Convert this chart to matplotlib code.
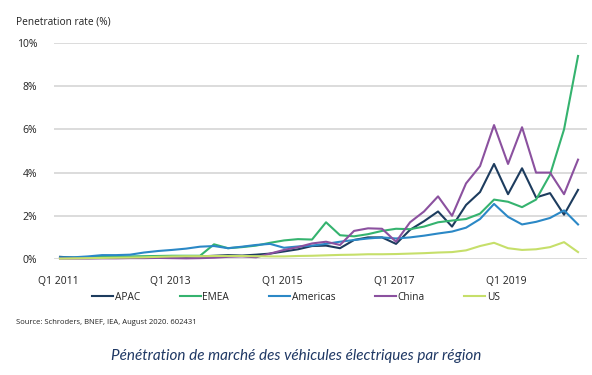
import matplotlib

matplotlib.use("Agg")
import matplotlib.pyplot as plt


# quarterly EV penetration (%), Q1 2011 .. Q2 2020
quarters = [f"Q{q} {y}" for y in range(2011, 2021) for q in range(1, 5)][:38]
tick_labels = ["Q1 2011", "Q1 2013", "Q1 2015", "Q1 2017", "Q1 2019"]

apac = [0.10, 0.06, 0.05, 0.05, 0.06, 0.07, 0.08, 0.10, 0.12, 0.10,
        0.12, 0.15, 0.18, 0.16, 0.20, 0.25, 0.35, 0.45, 0.60, 0.62,
        0.50, 0.88, 1.00, 1.00, 0.70, 1.35, 1.75, 2.20, 1.50, 2.50,
        3.10, 4.40, 3.00, 4.20, 2.85, 3.05, 2.05, 3.20]
emea = [0.05, 0.06, 0.08, 0.10, 0.10, 0.12, 0.13, 0.14, 0.15, 0.15,
        0.15, 0.68, 0.50, 0.55, 0.62, 0.75, 0.86, 0.92, 0.90, 1.70,
        1.10, 1.05, 1.15, 1.30, 1.40, 1.38, 1.50, 1.70, 1.78, 1.85,
        2.10, 2.75, 2.65, 2.40, 2.75, 3.90, 6.00, 9.40]
americas = [0.08, 0.08, 0.12, 0.18, 0.18, 0.20, 0.30, 0.37, 0.42, 0.48,
            0.57, 0.60, 0.50, 0.57, 0.65, 0.70, 0.52, 0.58, 0.62, 0.70,
            0.80, 0.88, 0.95, 1.00, 0.95, 1.00, 1.08, 1.18, 1.27, 1.45,
            1.85, 2.55, 1.95, 1.60, 1.72, 1.90, 2.25, 1.60]
china = [0.02, 0.02, 0.02, 0.03, 0.03, 0.04, 0.04, 0.05, 0.04, 0.03,
         0.04, 0.06, 0.10, 0.12, 0.08, 0.25, 0.42, 0.55, 0.72, 0.80,
         0.65, 1.30, 1.42, 1.40, 0.80, 1.70, 2.20, 2.90, 2.00, 3.50,
         4.30, 6.20, 4.40, 6.10, 4.00, 4.00, 3.00, 4.60]
us = [0.02, 0.03, 0.04, 0.05, 0.06, 0.07, 0.08, 0.10, 0.12, 0.13,
      0.13, 0.14, 0.14, 0.14, 0.13, 0.12, 0.12, 0.14, 0.15, 0.17,
      0.19, 0.20, 0.22, 0.22, 0.23, 0.25, 0.27, 0.30, 0.32, 0.40,
      0.60, 0.75, 0.50, 0.42, 0.45, 0.55, 0.78, 0.32]

series = [
    ("APAC", apac, "#1d3c5e"),
    ("EMEA", emea, "#35b36f"),
    ("Americas", americas, "#2b88c6"),
    ("China", china, "#8b519f"),
    ("US", us, "#c6df6a"),
]

plt.rcParams["font.family"] = ["Open Sans", "DejaVu Sans"]

fig = plt.figure(figsize=(5.92, 3.75), dpi=100)
ax = fig.add_axes([54 / 592, 1 - 259 / 375, 533 / 592, 216 / 375])

x = list(range(len(quarters)))
for name, values, color in series:
    ax.plot(x, values, color=color, linewidth=1.5, label=name, clip_on=False,
            solid_joinstyle="round")

ax.set_xlim(-0.43, 37.64)
ax.set_ylim(0, 10)
ax.set_yticks([0, 2, 4, 6, 8, 10])
ax.set_yticklabels(["0%", "2%", "4%", "6%", "8%", "10%"])
ax.set_xticks([quarters.index(t) - 0.15 for t in tick_labels])
ax.set_xticklabels(tick_labels)
ax.tick_params(axis="both", length=0, labelsize=7.5, colors="#222222")
ax.tick_params(axis="y", pad=12)
ax.tick_params(axis="x", pad=12)
ax.grid(True, axis="y", color="#d6d6d6", linewidth=1.2)
ax.set_axisbelow(True)
for spine in ax.spines.values():
    spine.set_visible(False)

fig.legend(loc="center", bbox_to_anchor=(0.5, 1 - 297 / 375), ncol=5, frameon=False,
           fontsize=7.3, handlelength=2.1, handletextpad=0.15, columnspacing=3.9,
           labelcolor="#222222")

fig.text(16 / 592, 1 - 22 / 375, "Penetration rate (%)", fontsize=7.3, color="#222222",
         va="center", ha="left")
fig.text(16 / 592, 1 - 323 / 375, "Source: Schroders, BNEF, IEA, August 2020. 602431",
         fontsize=5.5, color="#222222", va="center", ha="left")
fig.text(0.5, 1 - 356 / 375, "Pénétration de marché des véhicules électriques par région",
         fontsize=11, color="#1f3864", style="italic", family=["Lato", "DejaVu Sans"],
         va="center", ha="center")

fig.savefig("out.png", dpi=100)
plt.close(fig)
